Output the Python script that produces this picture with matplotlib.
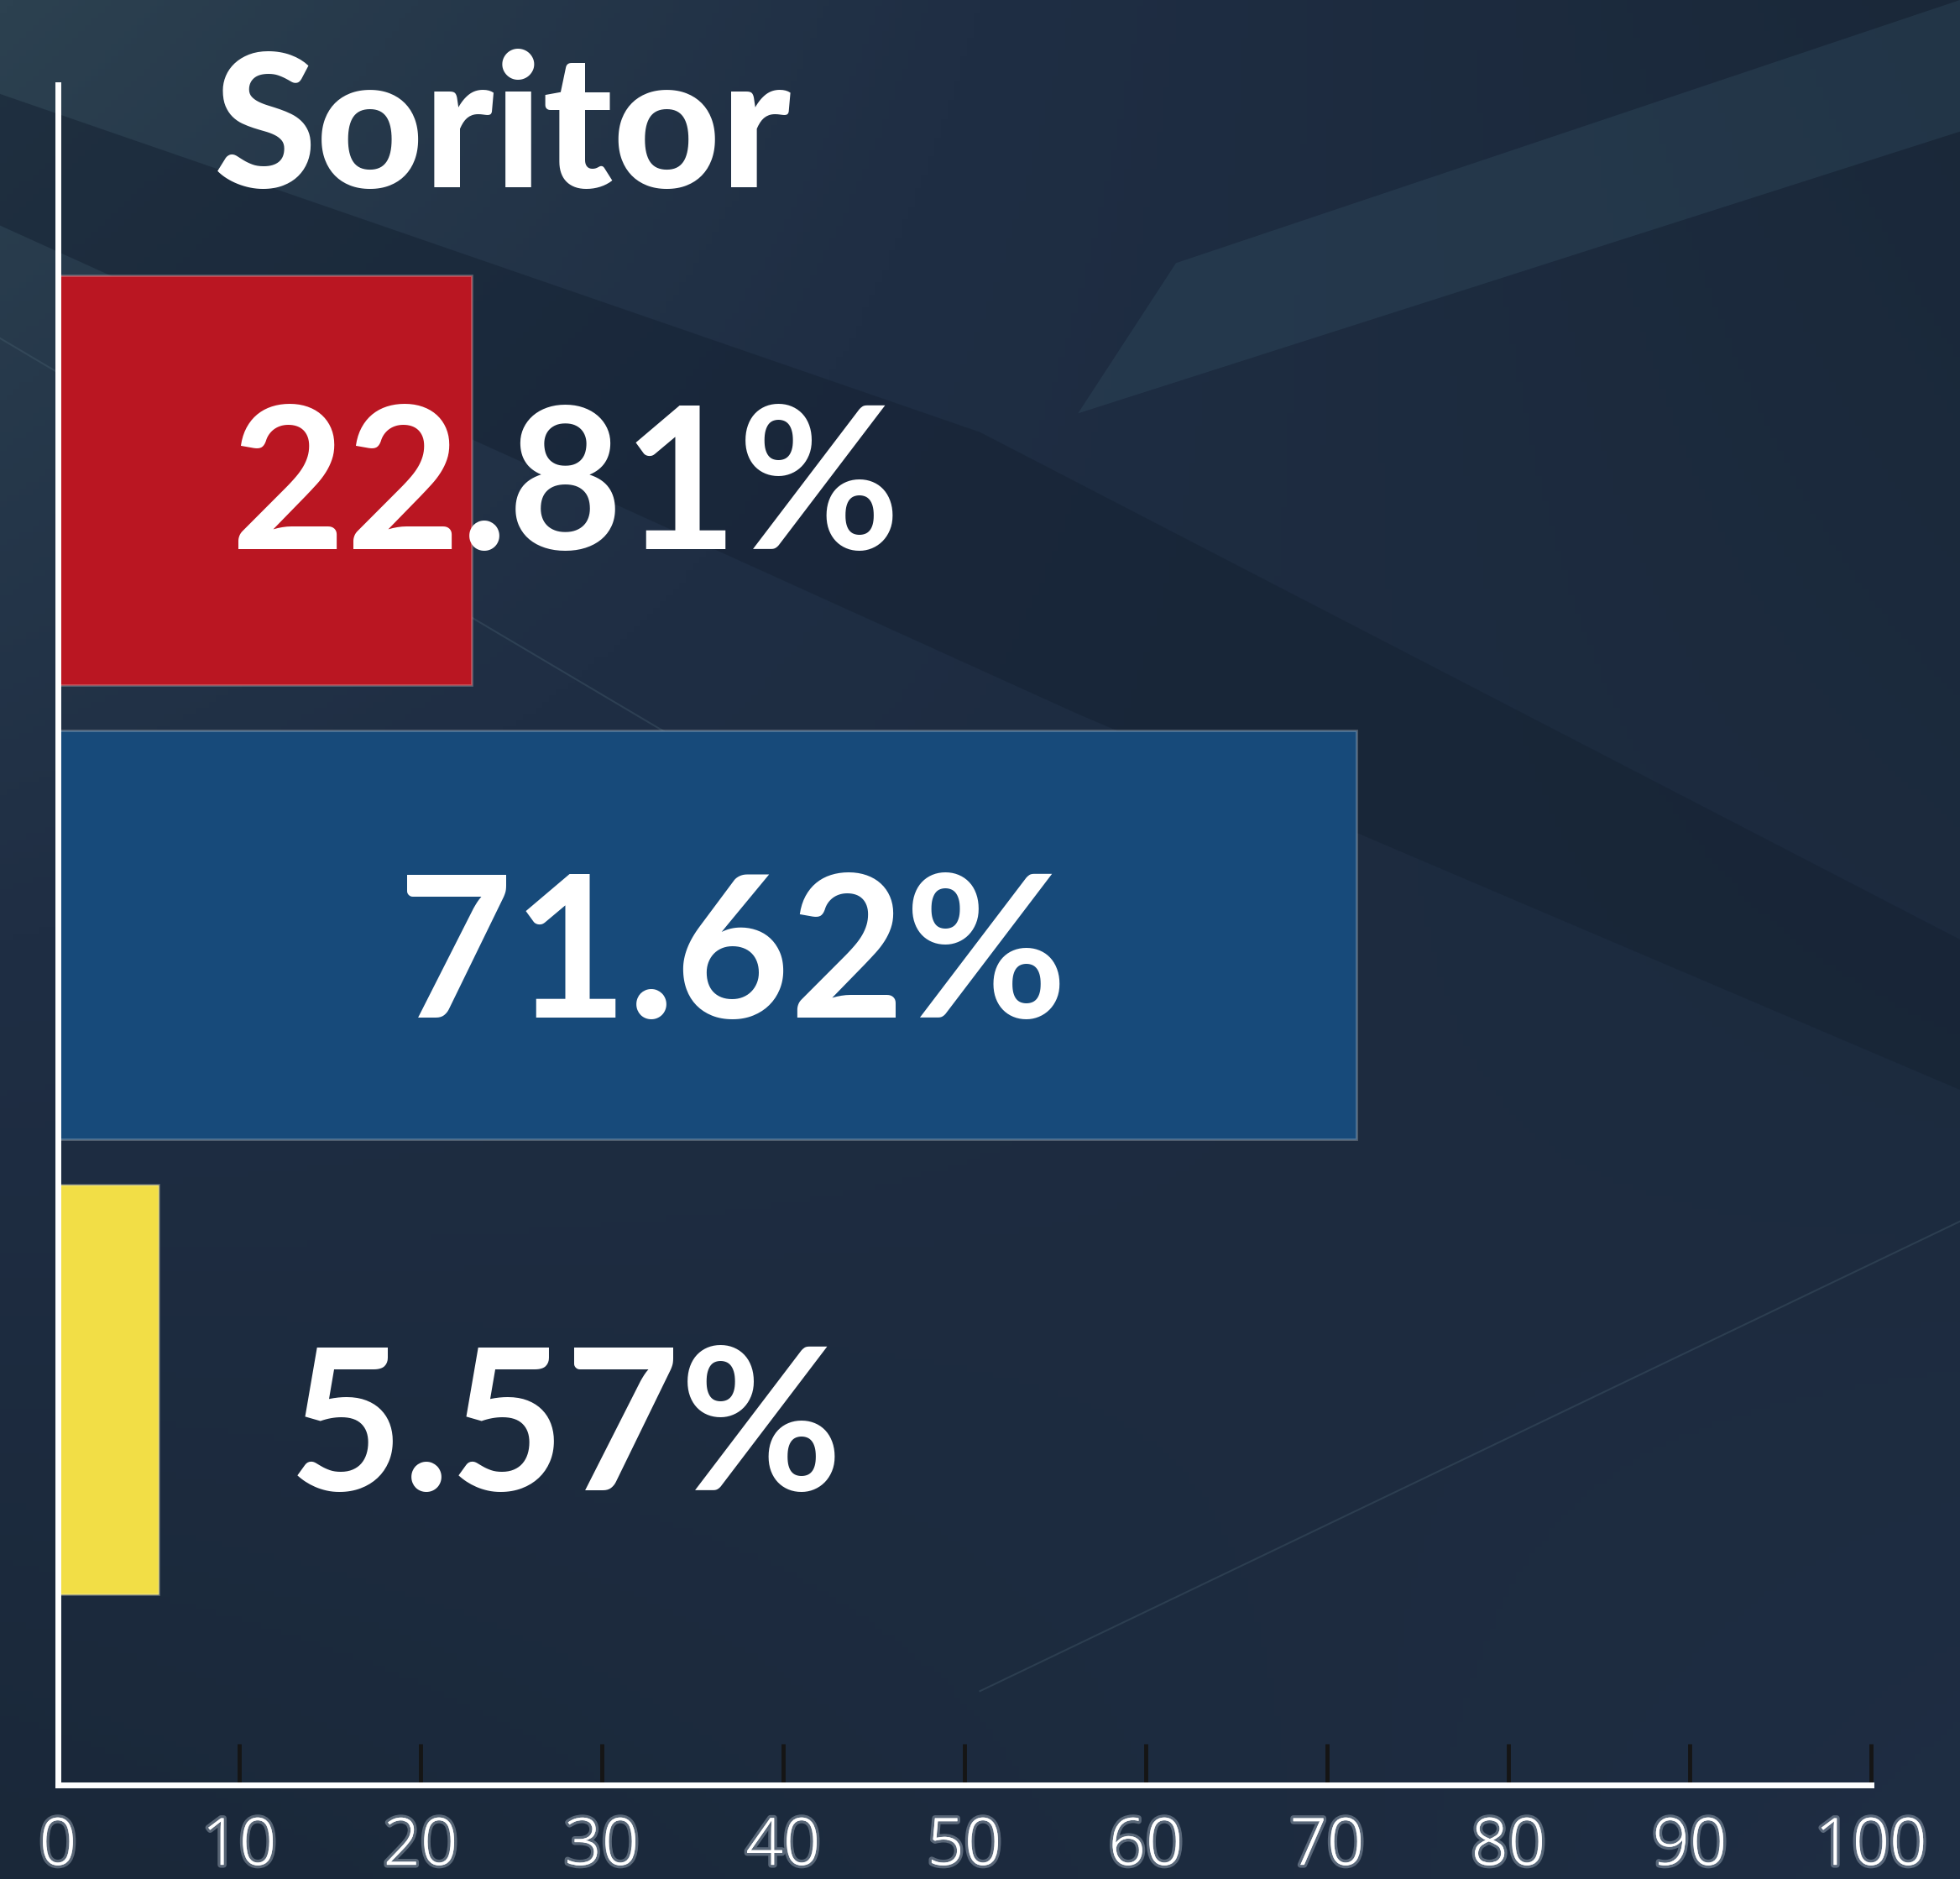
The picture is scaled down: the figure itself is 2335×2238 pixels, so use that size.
#!/usr/bin/env python3
"""
Horizontal percentage bars for 'Soritor' on a dark dashboard-style background
"""
import numpy as np
import matplotlib
matplotlib.use('Agg')
import matplotlib.pyplot as plt
import matplotlib.patheffects as pe
from matplotlib.colors import LinearSegmentedColormap

# Data
title = "Soritor"
values = [22.81, 71.62, 5.57]
labels = ["22.81%", "71.62%", "5.57%"]
bar_colors = ["#BA1622", "#174A7A", "#F2DE46"]
x_ticks = [0, 10, 20, 30, 40, 50, 60, 70, 80, 90, 100]

# small vertical nudges for the value labels (in bar units)
label_dy = [-0.01, 0.02, 0.06]

W, H, DPI = 2335, 2238, 100
fig = plt.figure(figsize=(W / DPI, H / DPI), dpi=DPI)

# Background: dark navy gradient with a few faint diagonal bands
bg = fig.add_axes([0, 0, 1, 1], zorder=-10)
yy, xx = np.mgrid[0:1:300j, 0:1:300j]
base = 0.55 * (1 - yy) * (1 - xx) + 0.25 * yy * xx
cmap = LinearSegmentedColormap.from_list("bg", ["#1a2839", "#1f2e44", "#2c4150"])
bg.imshow(base, cmap=cmap, extent=[0, 1, 0, 1], aspect='auto', origin='upper')
bg.fill([0, 0, 0.55, 1.0, 1.0, 0.5], [0.95, 0.88, 0.62, 0.42, 0.5, 0.77],
        color="#152233", alpha=0.55, lw=0)
bg.fill([0.55, 1.0, 1.0, 0.6], [0.78, 0.93, 1.0, 0.86], color="#335063", alpha=0.35, lw=0)
bg.plot([0, 0.68], [0.82, 0.4], color="#4a6272", alpha=0.35, lw=1.5)
bg.plot([0.5, 1.0], [0.1, 0.35], color="#4a6272", alpha=0.35, lw=1.5)
bg.set_xlim(0, 1)
bg.set_ylim(0, 1)
bg.axis('off')

ax = fig.add_axes([69 / W, 1 - 2126 / H, (2229 - 69) / W, (2126 - 101) / H])
ax.patch.set_alpha(0)

ypos = np.arange(len(values))
ax.barh(ypos, values, height=0.9, color=bar_colors,
        edgecolor=(1, 1, 1, 0.25), linewidth=2, zorder=2)

for y, v, lab, dy in zip(ypos, values, labels, label_dy):
    ax.text(max(v / 2 + 1.4, 28), y + dy, lab, ha='center', va='center_baseline',
            fontsize=170, fontweight='bold', family='Lato', color='white', zorder=3)

ax.set_xlim(0, 100)
ax.set_ylim(len(values) - 1 + 0.87, -0.87)
ax.set_xticks(x_ticks)
ax.set_xticklabels([str(t) for t in x_ticks])
ax.set_yticks([])

glow = [pe.withStroke(linewidth=5, foreground=(0.8, 0.85, 0.9, 0.35))]
for lbl in ax.get_xticklabels():
    lbl.set_family('Open Sans')
    lbl.set_fontweight('light')
    lbl.set_fontsize(56)
    lbl.set_color('white')
    lbl.set_path_effects(glow)
ax.tick_params(axis='x', direction='in', length=35, width=3.5,
               color='#151515', pad=26)

for side in ['top', 'right']:
    ax.spines[side].set_visible(False)
for side in ['left', 'bottom']:
    ax.spines[side].set_color('white')
    ax.spines[side].set_linewidth(5)
    ax.spines[side].set_capstyle('projecting')
    ax.spines[side].set_zorder(4)

fig.text(255 / W, 1 - 223 / H, title, ha='left', va='baseline',
         fontsize=160, fontweight='black', family='Lato', color='white')

fig.savefig('out.png', dpi=DPI)
